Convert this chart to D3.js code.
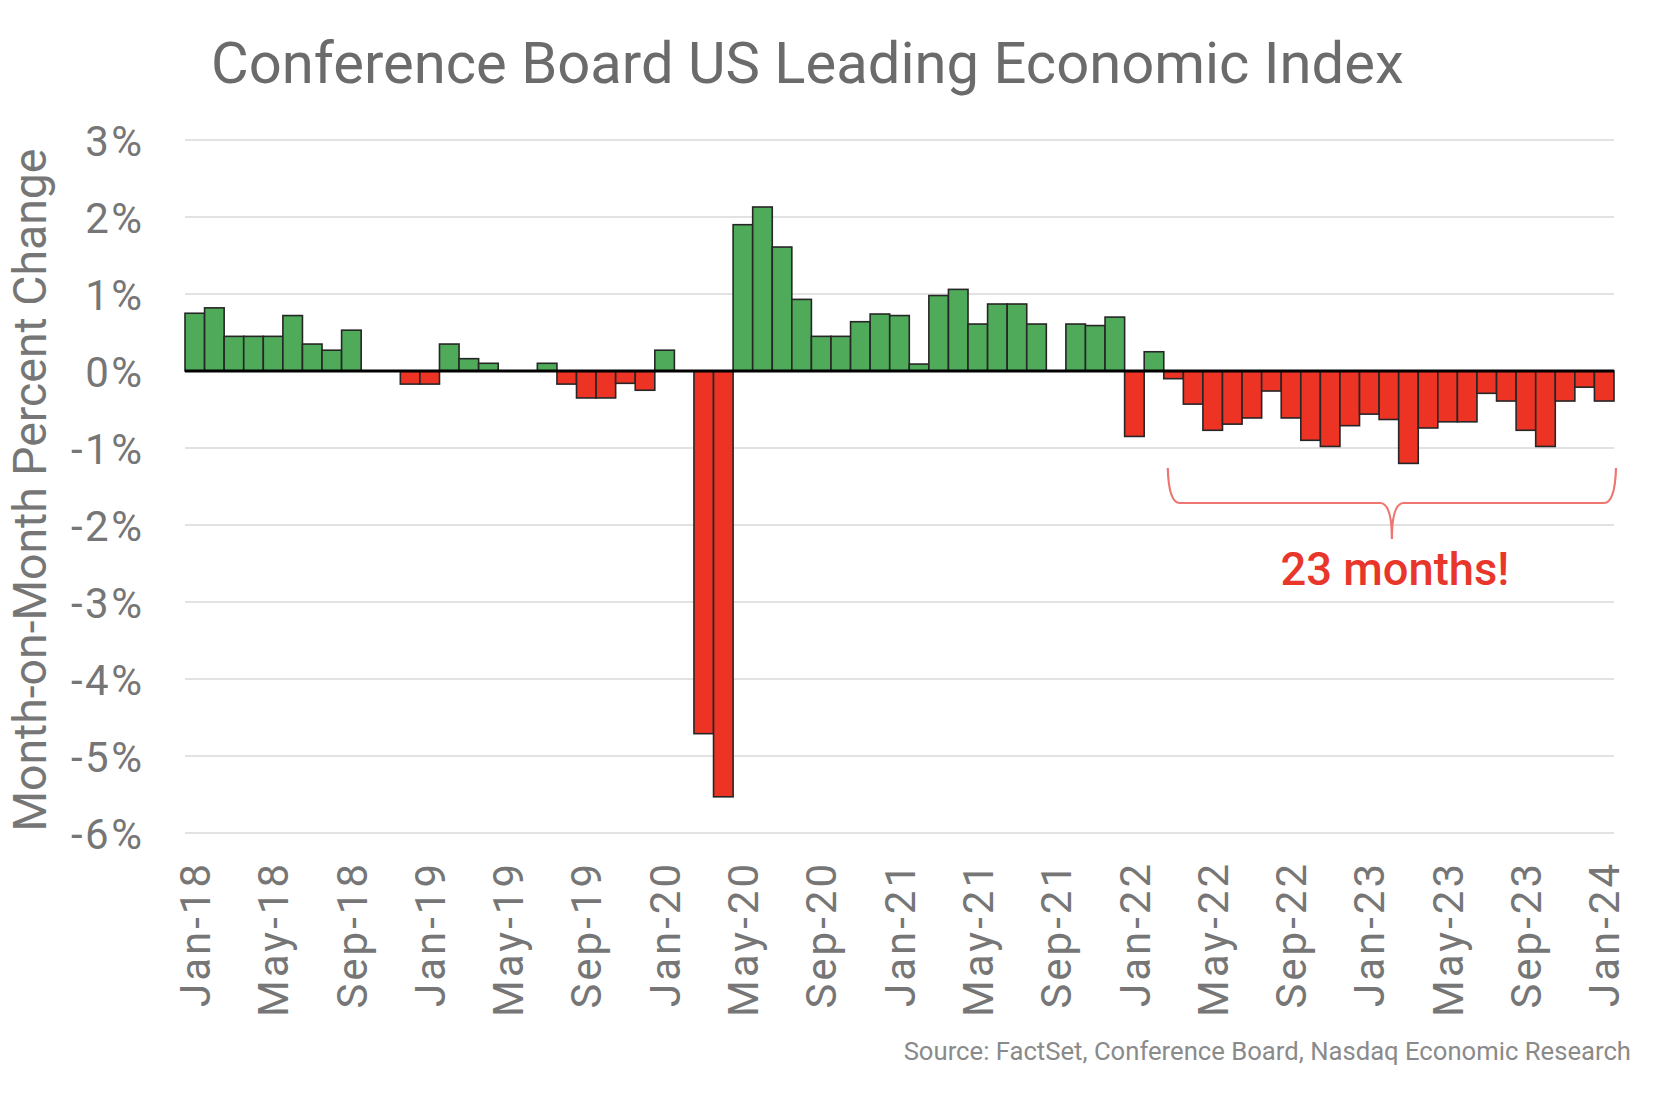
<!DOCTYPE html>
<html>
<head>
<meta charset="utf-8">
<script src="https://cdn.jsdelivr.net/npm/d3@7"></script>
<style>
  html, body { margin: 0; padding: 0; background: #ffffff; }
  svg { display: block; font-family: Roboto, "Noto Sans", sans-serif; }
</style>
</head>
<body>
<svg id="chart" width="1668" height="1102"></svg>
<script>
const months = [
  "Jan-18","Feb-18","Mar-18","Apr-18","May-18","Jun-18","Jul-18","Aug-18","Sep-18","Oct-18","Nov-18","Dec-18",
  "Jan-19","Feb-19","Mar-19","Apr-19","May-19","Jun-19","Jul-19","Aug-19","Sep-19","Oct-19","Nov-19","Dec-19",
  "Jan-20","Feb-20","Mar-20","Apr-20","May-20","Jun-20","Jul-20","Aug-20","Sep-20","Oct-20","Nov-20","Dec-20",
  "Jan-21","Feb-21","Mar-21","Apr-21","May-21","Jun-21","Jul-21","Aug-21","Sep-21","Oct-21","Nov-21","Dec-21",
  "Jan-22","Feb-22","Mar-22","Apr-22","May-22","Jun-22","Jul-22","Aug-22","Sep-22","Oct-22","Nov-22","Dec-22",
  "Jan-23","Feb-23","Mar-23","Apr-23","May-23","Jun-23","Jul-23","Aug-23","Sep-23","Oct-23","Nov-23","Dec-23",
  "Jan-24"
];
const momChange = [
  0.75, 0.82, 0.45, 0.45, 0.45, 0.72, 0.35, 0.27, 0.53, 0.00, 0.00, -0.17,
  -0.17, 0.35, 0.16, 0.10, 0.00, 0.00, 0.10, -0.17, -0.35, -0.35, -0.16, -0.25,
  0.27, 0.00, -4.71, -5.53, 1.90, 2.13, 1.61, 0.93, 0.45, 0.45, 0.64, 0.74,
  0.72, 0.09, 0.98, 1.06, 0.61, 0.87, 0.87, 0.61, 0.00, 0.61, 0.59, 0.70,
  -0.85, 0.25, -0.10, -0.43, -0.77, -0.69, -0.61, -0.26, -0.61, -0.90, -0.98, -0.71,
  -0.56, -0.63, -1.20, -0.74, -0.66, -0.66, -0.29, -0.39, -0.77, -0.98, -0.39, -0.21,
  -0.39
];
const xTickLabels = ["Jan-18","May-18","Sep-18","Jan-19","May-19","Sep-19","Jan-20","May-20","Sep-20",
  "Jan-21","May-21","Sep-21","Jan-22","May-22","Sep-22","Jan-23","May-23","Sep-23","Jan-24"];
const yTicks = [3, 2, 1, 0, -1, -2, -3, -4, -5, -6];
const titleText = "Conference Board US Leading Economic Index";
const yTitle = "Month-on-Month Percent Change";
const sourceText = "Source: FactSet, Conference Board, Nasdaq Economic Research";
const streakStart = "Mar-22", streakEnd = "Jan-24";
const streakLabel = "23 months!";

const svg = d3.select("#chart");
const plotL = 185, plotR = 1614, plotT = 140, plotB = 833;

const x = d3.scaleBand().domain(months).range([plotL, plotR]).padding(0);
const y = d3.scaleLinear().domain([-6, 3]).range([plotB, plotT]);

function fit(sel, target) {
  const w = sel.node().getComputedTextLength();
  const fs = parseFloat(sel.attr("font-size"));
  if (w > 0) sel.attr("font-size", fs * target / w);
}

// gridlines
svg.append("g").selectAll("line").data(yTicks.filter(d => d !== 0)).join("line")
  .attr("x1", plotL).attr("x2", plotR)
  .attr("y1", d => y(d)).attr("y2", d => y(d))
  .attr("stroke", "#e2e2e2").attr("stroke-width", 2);

// y axis labels
const yAxis = d3.axisLeft(y).tickValues(yTicks).tickFormat(d => d + "%").tickSize(0).tickPadding(0);
const yg = svg.append("g").attr("transform", `translate(144.5,0)`).call(yAxis);
yg.select(".domain").remove();
yg.selectAll("text").attr("font-size", 42).attr("fill", "#767676")
  .attr("font-family", "Roboto, sans-serif").attr("letter-spacing", 2.5).attr("dy", "0.36em");

// bars
svg.append("g").selectAll("rect").data(months.map((m, i) => ({m, v: momChange[i]}))).join("rect")
  .attr("x", d => x(d.m))
  .attr("width", x.bandwidth())
  .attr("y", d => y(Math.max(0, d.v)))
  .attr("height", d => Math.abs(y(d.v) - y(0)))
  .attr("fill", d => d.v >= 0 ? "#4fab5a" : "#ec3324")
  .attr("stroke", "#262626").attr("stroke-width", 1.6)
  .attr("display", d => d.v === 0 ? "none" : null);

// zero line
svg.append("line").attr("x1", plotL).attr("x2", plotR)
  .attr("y1", y(0)).attr("y2", y(0))
  .attr("stroke", "#000").attr("stroke-width", 3);

// x axis labels
const xAxis = d3.axisBottom(x).tickValues(xTickLabels).tickSize(0).tickPadding(0);
const xg = svg.append("g").attr("transform", `translate(0,861)`).call(xAxis);
xg.select(".domain").remove();
xg.selectAll("text")
  .attr("font-size", 42).attr("fill", "#767676").attr("font-family", "Roboto, sans-serif")
  .attr("letter-spacing", 3)
  .attr("text-anchor", "end").attr("transform", "rotate(-90)")
  .attr("x", 0).attr("y", 0).attr("dy", "0.36em");

// title
const t = svg.append("text").attr("x", 211).attr("y", 83)
  .attr("font-size", 54).attr("fill", "#6b6b6b").text(titleText);
fit(t, 1193);

// y title
const yt = svg.append("text").attr("transform", "translate(46,490) rotate(-90)")
  .attr("text-anchor", "middle").attr("font-size", 40).attr("fill", "#767676").text(yTitle);
fit(yt, 683);

// source
const st = svg.append("text").attr("x", 1631).attr("y", 1060).attr("text-anchor", "end")
  .attr("font-size", 24).attr("fill", "#8a8a8a").text(sourceText);
fit(st, 728);

// brace annotation
const bx0 = x(streakStart) + 4, bx1 = x(streakEnd) + x.bandwidth() + 2;
const bm = (bx0 + bx1) / 2;
const byTop = 468, byMid = 503, byTip = 539;
const p = d3.path();
p.moveTo(bx0, byTop);
p.quadraticCurveTo(bx0 + 1, byMid, bx0 + 12, byMid);
p.lineTo(bm - 12, byMid);
p.quadraticCurveTo(bm, byMid, bm, byTip);
p.moveTo(bm, byTip);
p.quadraticCurveTo(bm, byMid, bm + 12, byMid);
p.lineTo(bx1 - 12, byMid);
p.quadraticCurveTo(bx1 - 1, byMid, bx1, byTop);
svg.append("path").attr("d", p.toString()).attr("fill", "none")
  .attr("stroke", "#ee7570").attr("stroke-width", 2.2);

const lt = svg.append("text").attr("x", bm + 3).attr("y", 585).attr("text-anchor", "middle")
  .attr("font-size", 44).attr("font-weight", 500).attr("fill", "#e8372a").text(streakLabel);
fit(lt, 229);
</script>
</body>
</html>
